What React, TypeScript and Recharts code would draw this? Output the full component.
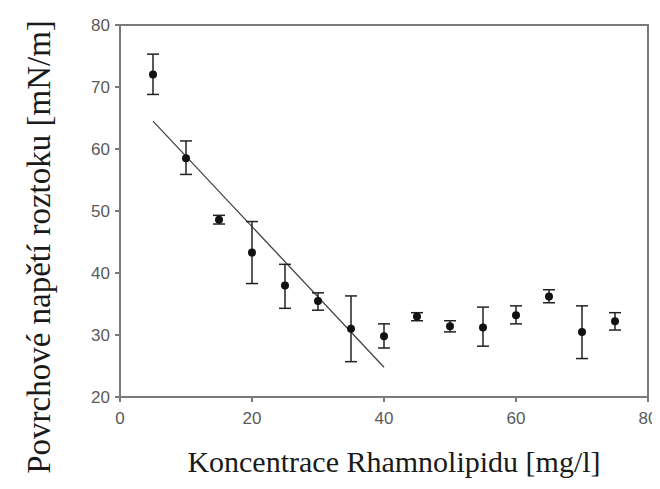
import { ComposedChart, Scatter, Line, XAxis, YAxis, ErrorBar } from "recharts";

const concentration = [5, 10, 15, 20, 25, 30, 35, 40, 45, 50, 55, 60, 65, 70, 75];
const tension = [72, 58.5, 48.6, 43.3, 38, 35.5, 31, 29.8, 33, 31.4, 31.2, 33.2, 36.2, 30.5, 32.2];
// [below, above] distance of each error bar
const errLow = [3.2, 2.6, 0.7, 5.0, 3.7, 1.5, 5.3, 1.9, 0.7, 0.9, 3.0, 1.4, 1.0, 4.3, 1.4];
const errHigh = [3.3, 2.8, 0.7, 5.0, 3.4, 1.3, 5.3, 2.0, 0.6, 0.9, 3.3, 1.5, 1.1, 4.2, 1.4];

const fitX = [5, 40];
const fitY = [64.5, 24.8];

const xTicks = [0, 20, 40, 60, 80];
const yTicks = [20, 30, 40, 50, 60, 70, 80];

const points = concentration.map((x, i) => ({ x, y: tension[i], err: [errLow[i], errHigh[i]] }));
const fit = fitX.map((x, i) => ({ x, fy: fitY[i] }));

const axisColor = "#7a7a7a";
const tickStyle = { fontFamily: "Liberation Sans, Arial, sans-serif", fontSize: 17, fill: "#5a5a5a" };
const labelStyle = { fontFamily: "Liberation Serif, Times New Roman, serif", fill: "#1a1a1a" };

export default function App() {
  return (
    <div style={{ position: "relative", width: 660, height: 489, background: "#fff", margin: -8 }}>
      <ComposedChart width={660} height={489} margin={{ top: 25, right: 12, bottom: 0, left: 0 }}>
        <XAxis
          type="number"
          dataKey="x"
          domain={[0, 80]}
          ticks={xTicks}
          tick={tickStyle}
          stroke={axisColor}
          strokeWidth={2}
          tickSize={5}
          tickMargin={10}
          height={92}
          label={{
            value: "Koncentrace Rhamnolipidu [mg/l]",
            position: "insideBottom",
            offset: 17,
            dx: 10,
            style: { ...labelStyle, fontSize: 30 },
          }}
        />
        <YAxis
          type="number"
          domain={[20, 80]}
          ticks={yTicks}
          tick={tickStyle}
          stroke={axisColor}
          strokeWidth={2}
          tickSize={5}
          tickMargin={5}
          width={120}
          label={{
            value: "Povrchové napětí roztoku [mN/m]",
            angle: -90,
            position: "insideLeft",
            offset: 38,
            dy: 36,
            style: { ...labelStyle, fontSize: 33, textAnchor: "middle" },
          }}
        />
        <Line
          data={fit}
          dataKey="fy"
          stroke="#444"
          strokeWidth={1.3}
          dot={false}
          activeDot={false}
          isAnimationActive={false}
        />
        <Scatter data={points} dataKey="y" fill="#111" isAnimationActive={false} shape={(p: any) => <circle cx={p.cx} cy={p.cy} r={4} fill="#111" />}>
          <ErrorBar dataKey="err" direction="y" width={6} stroke="#222" strokeWidth={1.5} />
        </Scatter>
      </ComposedChart>
      {/* top and right frame of the plot box */}
      <div
        style={{
          position: "absolute",
          left: 120,
          top: 24,
          width: 529,
          height: 373,
          boxSizing: "border-box",
          borderTop: `2px solid ${axisColor}`,
          borderRight: `2px solid ${axisColor}`,
          pointerEvents: "none",
        }}
      />
    </div>
  );
}
